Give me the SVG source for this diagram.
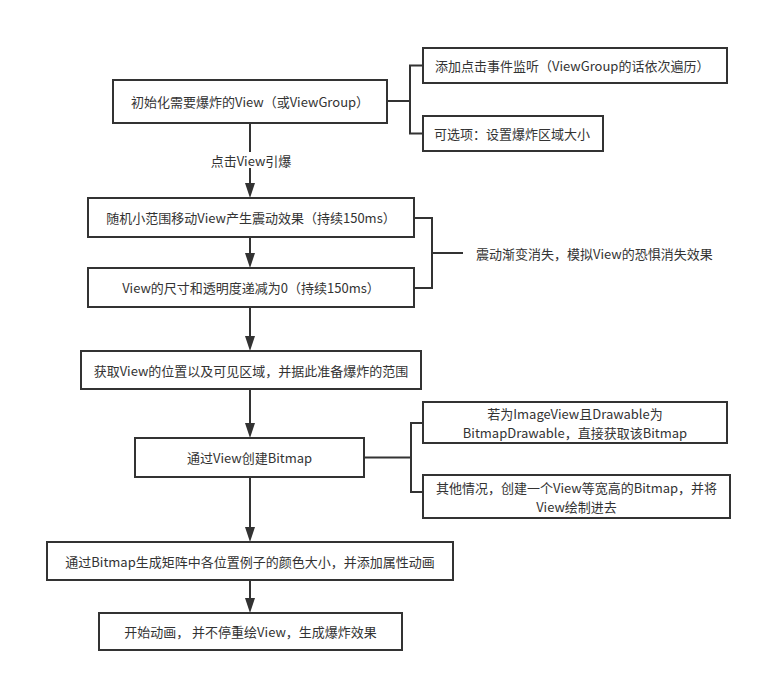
<svg xmlns="http://www.w3.org/2000/svg" width="763" height="682" viewBox="0 0 763 682">
  <defs>
    <marker id="arrow" markerUnits="userSpaceOnUse" markerWidth="15" markerHeight="10" refX="0" refY="5" orient="auto" viewBox="0 0 15 10">
      <path d="M0,0 L15,5 L0,10 z" fill="#333333"/>
    </marker>
    <style>
      .box { fill: #ffffff; stroke: #333333; stroke-width: 2; }
      .lbl { font-family: "Noto Sans CJK SC", "Liberation Sans", sans-serif; font-size: 13px; fill: #333333; dominant-baseline: central; }
      .c { text-anchor: middle; }
      .l { text-anchor: start; }
      .conn { fill: none; stroke: #333333; stroke-width: 2; }
    </style>
  </defs>
  <rect x="0" y="0" width="763" height="682" fill="#ffffff"/>

  <g id="connectors">
    <path class="conn" d="M387,101 H410 M423,65.5 H410 V133.5 H423"/>
    <path class="conn" d="M250,123 V152"/>
    <path class="conn" d="M250,168 V183" marker-end="url(#arrow)"/>
    <path class="conn" d="M250,237 V253" marker-end="url(#arrow)"/>
    <path class="conn" d="M414,218 H432 V288 H414 M432,253 H463"/>
    <path class="conn" d="M250,307 V336" marker-end="url(#arrow)"/>
    <path class="conn" d="M250,389 V423" marker-end="url(#arrow)"/>
    <path class="conn" d="M364,457.5 H411 M423,423 H411 V492 H423"/>
    <path class="conn" d="M250,477 V527" marker-end="url(#arrow)"/>
    <path class="conn" d="M250,580 V598" marker-end="url(#arrow)"/>
  </g>

  <g id="n-init">
    <rect class="box" x="113" y="80" width="274" height="43"/>
    <text class="lbl c" x="250" y="101.5">初始化需要爆炸的View（或ViewGroup）</text>
  </g>
  <g id="n-listen">
    <rect class="box" x="423" y="48" width="304" height="35"/>
    <text class="lbl l" x="435" y="65.5">添加点击事件监听（ViewGroup的话依次遍历）</text>
  </g>
  <g id="n-option">
    <rect class="box" x="423" y="116" width="180" height="35"/>
    <text class="lbl l" x="434" y="133.5">可选项：设置爆炸区域大小</text>
  </g>
  <g id="e-click">
    <text class="lbl c" x="251" y="160">点击View引爆</text>
  </g>
  <g id="n-shake">
    <rect class="box" x="88" y="198" width="326" height="39"/>
    <text class="lbl c" x="251" y="217.5">随机小范围移动View产生震动效果（持续150ms）</text>
  </g>
  <g id="n-shrink">
    <rect class="box" x="88" y="268" width="326" height="39"/>
    <text class="lbl c" x="251" y="287.5">View的尺寸和透明度递减为0（持续150ms）</text>
  </g>
  <g id="n-fear">
    <text class="lbl l" x="476" y="253">震动渐变消失，模拟View的恐惧消失效果</text>
  </g>
  <g id="n-range">
    <rect class="box" x="81" y="351" width="340" height="38"/>
    <text class="lbl c" x="251" y="370">获取View的位置以及可见区域，并据此准备爆炸的范围</text>
  </g>
  <g id="n-bitmap">
    <rect class="box" x="135" y="438" width="229" height="39"/>
    <text class="lbl c" x="249.5" y="457.5">通过View创建Bitmap</text>
  </g>
  <g id="n-imageview">
    <rect class="box" x="423" y="402" width="304" height="41"/>
    <text class="lbl c" x="575" y="413"><tspan x="575" y="413">若为ImageView且Drawable为</tspan><tspan x="575" y="432">BitmapDrawable，直接获取该Bitmap</tspan></text>
  </g>
  <g id="n-other">
    <rect class="box" x="423" y="475" width="307" height="43"/>
    <text class="lbl c" x="576.5" y="487"><tspan x="576.5" y="487">其他情况，创建一个View等宽高的Bitmap，并将</tspan><tspan x="576.5" y="506">View绘制进去</tspan></text>
  </g>
  <g id="n-matrix">
    <rect class="box" x="47" y="542" width="406" height="38"/>
    <text class="lbl c" x="250" y="561">通过Bitmap生成矩阵中各位置例子的颜色大小，并添加属性动画</text>
  </g>
  <g id="n-start">
    <rect class="box" x="99" y="613" width="303" height="37"/>
    <text class="lbl c" x="250.5" y="631.5">开始动画， 并不停重绘View，生成爆炸效果</text>
  </g>
</svg>
